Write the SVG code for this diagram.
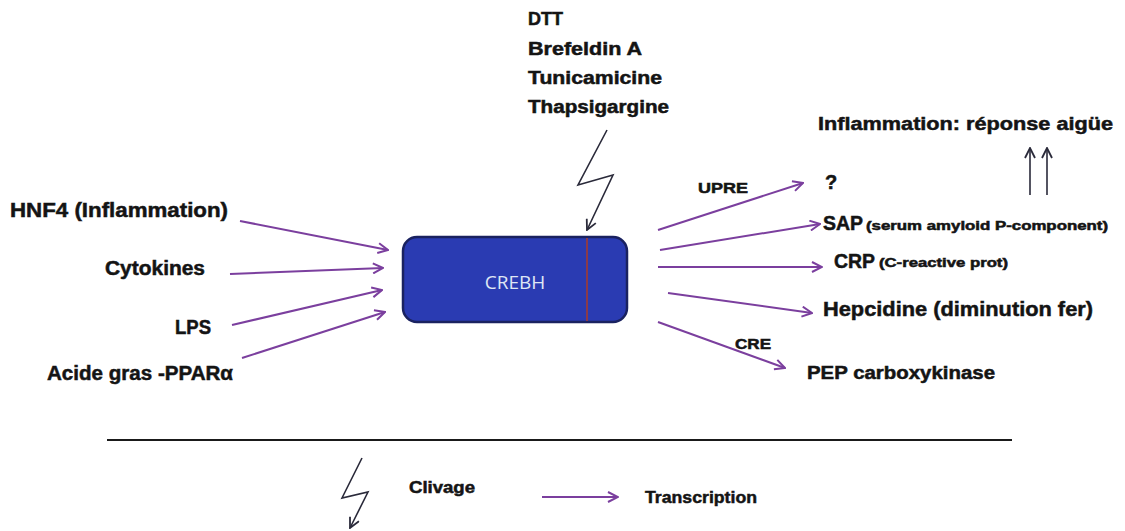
<svg xmlns="http://www.w3.org/2000/svg" width="1125" height="531" viewBox="0 0 1125 531">
<style>
.t{font-family:"Liberation Sans",Arial,sans-serif;font-weight:bold;fill:#141414;stroke:#141414;stroke-width:0.5}
.p{stroke:#7b3f9e;stroke-width:2;fill:none}
.k{stroke:#2a2a3a;stroke-width:1.6;fill:none}
</style>
<defs>
<marker id="ap" viewBox="0 0 12 12" refX="11" refY="6" markerWidth="12" markerHeight="12" markerUnits="userSpaceOnUse" orient="auto"><path d="M1,1 L11,6 L1,11" fill="none" stroke="#7b3f9e" stroke-width="2"/></marker>
<marker id="ak" viewBox="0 0 12 12" refX="11" refY="6" markerWidth="12" markerHeight="12" markerUnits="userSpaceOnUse" orient="auto"><path d="M1,1 L11,6 L1,11" fill="none" stroke="#2a2a3a" stroke-width="1.8"/></marker>
</defs>
<rect width="1125" height="531" fill="#fff"/>

<g id="node-crebh">
<rect x="403" y="237" width="224" height="85" rx="14" fill="#2a3bb2" stroke="#1a2260" stroke-width="2.5"/>
<line x1="587" y1="238" x2="587" y2="321" stroke="#8a3a4a" stroke-width="2"/>
<text x="515" y="289" text-anchor="middle" font-family="'Open Sans','Liberation Sans',sans-serif" font-size="19" fill="#dfe6f5">CREBH</text>
</g>

<g id="node-stress">
<text class="t" font-size="18" x="528" y="25" textLength="35" lengthAdjust="spacingAndGlyphs">DTT</text>
<text class="t" font-size="18" x="528" y="55" textLength="114" lengthAdjust="spacingAndGlyphs">Brefeldin A</text>
<text class="t" font-size="18" x="528" y="84" textLength="134" lengthAdjust="spacingAndGlyphs">Tunicamicine</text>
<text class="t" font-size="18" x="528" y="113" textLength="141" lengthAdjust="spacingAndGlyphs">Thapsigargine</text>
</g>

<g id="node-hnf4"><text class="t" font-size="20" x="10" y="217" textLength="218" lengthAdjust="spacingAndGlyphs">HNF4 (Inflammation)</text></g>
<g id="node-cytokines"><text class="t" font-size="20" x="105" y="275" textLength="100" lengthAdjust="spacingAndGlyphs">Cytokines</text></g>
<g id="node-lps"><text class="t" font-size="20" x="175" y="334" textLength="36" lengthAdjust="spacingAndGlyphs">LPS</text></g>
<g id="node-acide"><text class="t" font-size="20" x="47" y="380" textLength="186" lengthAdjust="spacingAndGlyphs">Acide gras -PPARα</text></g>

<g id="node-inflammation"><text class="t" font-size="19" x="818" y="130" textLength="295" lengthAdjust="spacingAndGlyphs">Inflammation: réponse aigüe</text></g>
<g id="node-unknown"><text class="t" font-size="20" x="825" y="189">?</text></g>
<g id="node-sap">
<text class="t" font-size="20" x="823" y="230" textLength="40" lengthAdjust="spacingAndGlyphs">SAP</text>
<text class="t" font-size="12" x="866" y="230" textLength="242" lengthAdjust="spacingAndGlyphs">(serum amyloid P-component)</text>
</g>
<g id="node-crp">
<text class="t" font-size="20" x="834" y="268" textLength="41" lengthAdjust="spacingAndGlyphs">CRP</text>
<text class="t" font-size="12" x="879" y="267" textLength="129" lengthAdjust="spacingAndGlyphs">(C-reactive prot)</text>
</g>
<g id="node-hepcidine"><text class="t" font-size="21" x="823" y="316" textLength="270" lengthAdjust="spacingAndGlyphs">Hepcidine (diminution fer)</text></g>
<g id="node-pep"><text class="t" font-size="18" x="807" y="379" textLength="188" lengthAdjust="spacingAndGlyphs">PEP carboxykinase</text></g>

<g id="legend">
<line x1="107" y1="440" x2="1012" y2="440" stroke="#1a1a1a" stroke-width="2"/>
<text class="t" font-size="16" x="409" y="493" textLength="66" lengthAdjust="spacingAndGlyphs">Clivage</text>
<text class="t" font-size="17" x="645" y="503" textLength="112" lengthAdjust="spacingAndGlyphs">Transcription</text>
</g>

<g id="connectors">
<line class="p" x1="240" y1="221" x2="388" y2="250" marker-end="url(#ap)"/>
<line class="p" x1="230" y1="274" x2="383" y2="268" marker-end="url(#ap)"/>
<line class="p" x1="232" y1="325" x2="382" y2="290" marker-end="url(#ap)"/>
<line class="p" x1="242" y1="358" x2="385" y2="312" marker-end="url(#ap)"/>
<polyline class="k" points="607,130 578,185 613,175 587,230" marker-end="url(#ak)"/>
<line class="p" x1="658" y1="230" x2="803" y2="183" marker-end="url(#ap)"/>
<text class="t" font-size="15" x="698" y="193" textLength="50" lengthAdjust="spacingAndGlyphs">UPRE</text>
<line class="p" x1="660" y1="250" x2="820" y2="224" marker-end="url(#ap)"/>
<line class="p" x1="658" y1="267" x2="822" y2="267" marker-end="url(#ap)"/>
<line class="p" x1="668" y1="293" x2="812" y2="313" marker-end="url(#ap)"/>
<line class="p" x1="658" y1="322" x2="785" y2="368" marker-end="url(#ap)"/>
<text class="t" font-size="15" x="735" y="349" textLength="36" lengthAdjust="spacingAndGlyphs">CRE</text>
<line class="k" x1="1030" y1="195" x2="1030" y2="148" marker-end="url(#ak)"/>
<line class="k" x1="1047" y1="195" x2="1047" y2="148" marker-end="url(#ak)"/>
<polyline class="k" points="362,458 342,498 368,492 350,528" marker-end="url(#ak)"/>
<line class="p" x1="542" y1="497" x2="618" y2="497" marker-end="url(#ap)"/>
</g>
</svg>
